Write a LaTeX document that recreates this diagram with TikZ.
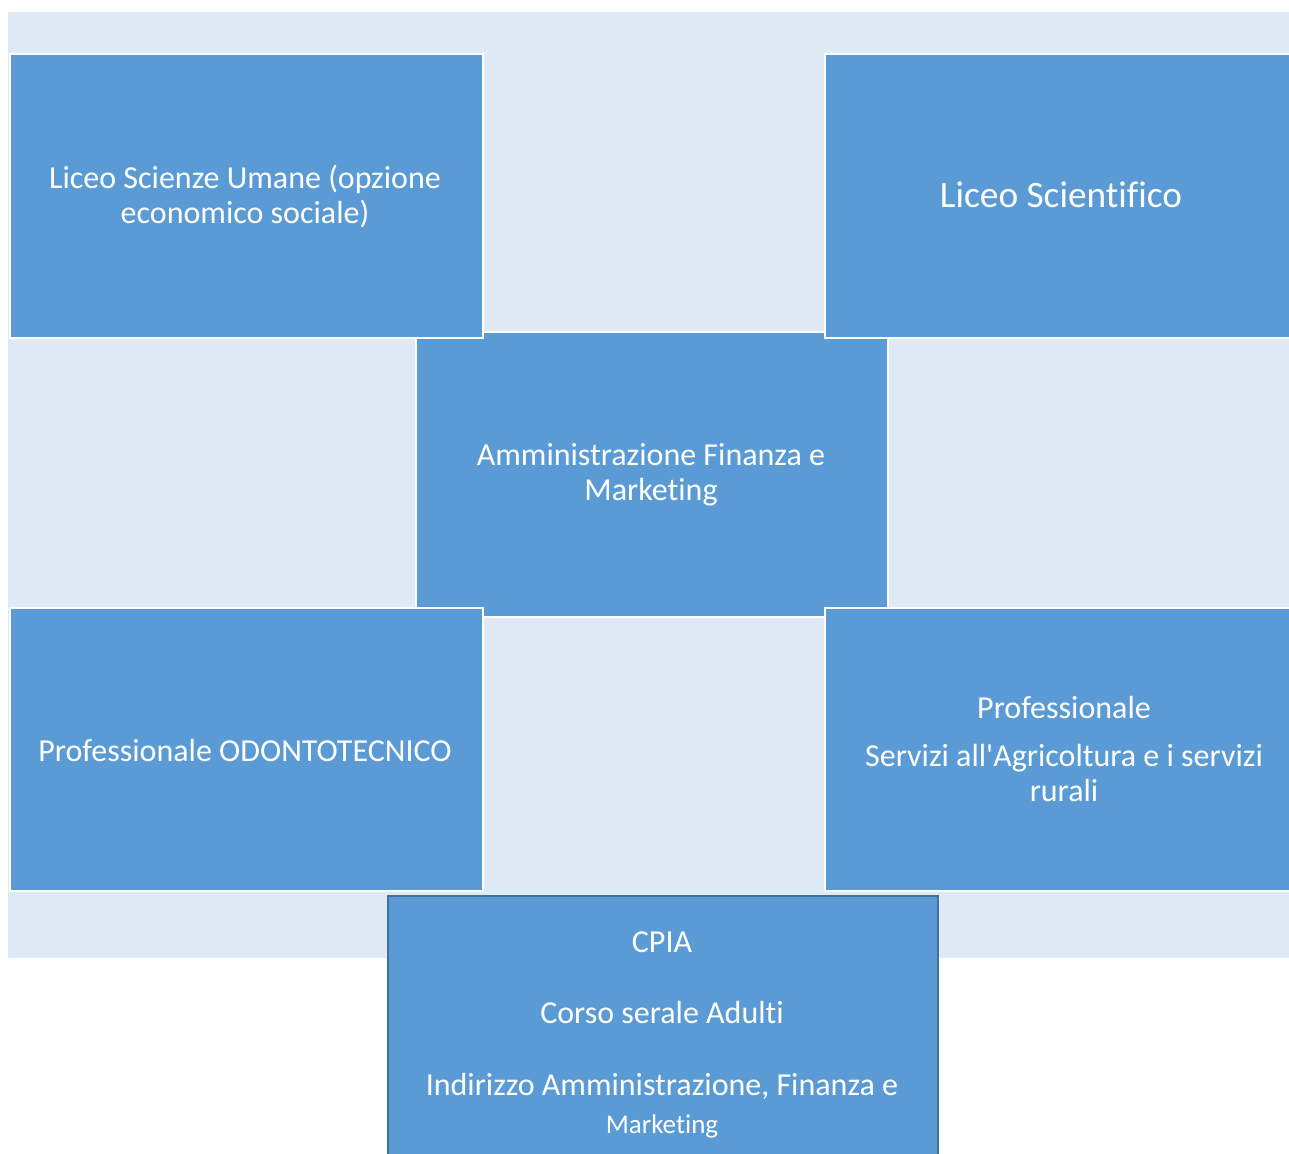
\documentclass[tikz,border=0pt]{standalone}
\usepackage{fontspec}
\newfontfamily\carl{Carlito}[Ligatures=NoCommon]
\definecolor{panel}{HTML}{DEEBF7}
\definecolor{boxblue}{HTML}{5B9BD5}
\definecolor{edgeblue}{HTML}{41719C}
\tikzset{
  box/.style={draw=white, line width=2pt, fill=boxblue, rectangle, inner sep=0pt, anchor=north west},
  cpiabox/.style={draw=edgeblue, line width=2pt, fill=boxblue, rectangle, inner sep=0pt, anchor=north west},
  txt/.style={text=white, align=center, inner sep=0pt, font=\carl\fontsize{32}{35}\selectfont},
  bigtxt/.style={text=white, align=center, inner sep=0pt, font=\carl\fontsize{37.3}{40}\selectfont},
}
\begin{document}
\begin{tikzpicture}[x=1pt,y=-1pt]
\useasboundingbox (0,0) rectangle (1289,1153);
\clip (0,0) rectangle (1289,1153);
\fill[white] (0,0) rectangle (1289,1153);
\node[fill=panel, rectangle, inner sep=0pt, anchor=north west, minimum width=1281pt, minimum height=946pt] (bg) at (8,12) {};
% centre box (below the corner boxes)
\node[box, minimum width=472pt, minimum height=285pt] (mid) at (415,331) {};
% corner boxes
\node[box, minimum width=473pt, minimum height=284pt] (tl) at (9,53) {};
\node[box, minimum width=480pt, minimum height=284pt] (tr) at (824,53) {};
\node[box, minimum width=473pt, minimum height=283pt] (bl) at (9,607) {};
\node[box, minimum width=480pt, minimum height=283pt] (br) at (824,607) {};
% bottom box
\node[cpiabox, minimum width=550pt, minimum height=300pt] (cpia) at (387,895) {};
% texts
\node[txt] (tltxt) at (245,197) {Liceo Scienze Umane (opzione\\economico sociale)};
\node[bigtxt] (trtxt) at (1061,195) {Liceo Scientifico};
\node[txt] (midtxt) at (651,475) {Amministrazione Finanza e\\Marketing};
\node[txt] (bltxt) at (245,750) {Professionale ODONTOTECNICO};
\node[txt] (brtxt) at (1064,749) {Professionale\\[13pt]Servizi all'Agricoltura e i servizi\\rurali};
\node[txt, anchor=base] (cpia1) at (662,952) {CPIA};
\node[txt, anchor=base] (cpia2) at (662,1023) {Corso serale Adulti};
\node[txt, anchor=base] (cpia3) at (662,1095) {Indirizzo Amministrazione, Finanza e};
\node[txt, anchor=base, font=\carl\fontsize{27}{30}\selectfont] (cpia4) at (662,1133) {Marketing};
\end{tikzpicture}
\end{document}
